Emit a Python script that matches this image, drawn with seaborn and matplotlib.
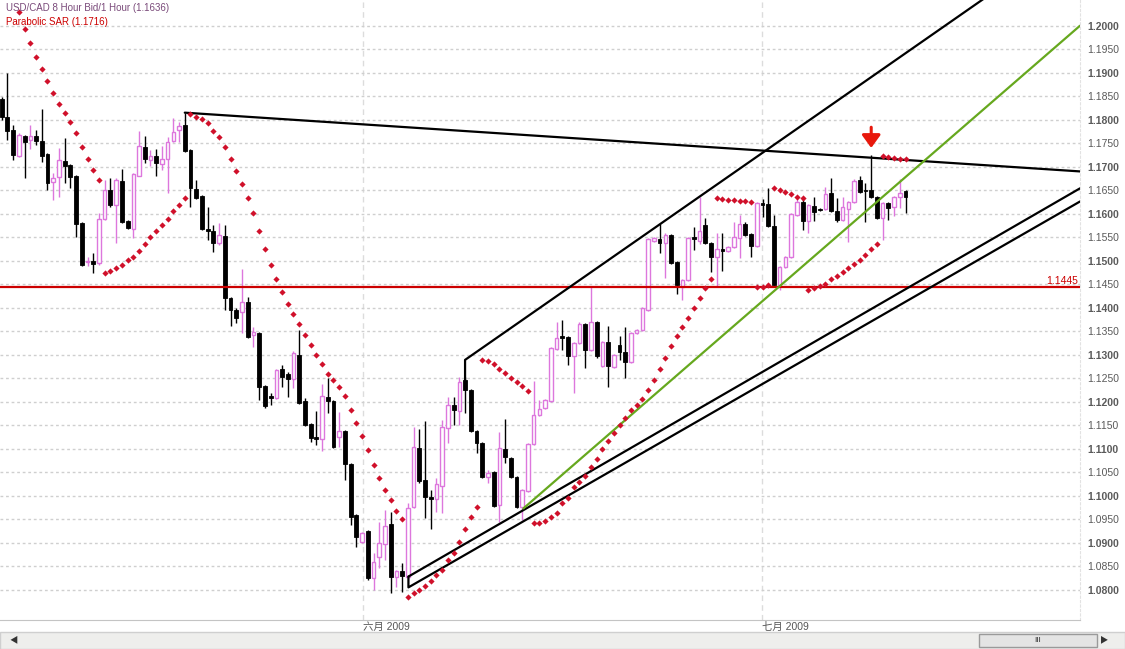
import matplotlib
matplotlib.use("Agg")
import matplotlib.pyplot as plt
from matplotlib.patches import Rectangle
import numpy as np
import pandas as pd
import seaborn as sns

# ---- USD/CAD 8-hour bars ----
opens = [
    1.1844, 1.1806, 1.1778, 1.1723, 1.1766, 1.1757, 1.1766, 1.1755, 1.1727, 1.1668,
    1.1678, 1.1712, 1.1704, 1.1680, 1.1580, 1.1497, 1.1500, 1.1495, 1.1589, 1.1650,
    1.1619, 1.1670, 1.1585, 1.1568, 1.1680, 1.1742, 1.1714, 1.1723, 1.1706, 1.1716,
    1.1755, 1.1778, 1.1789, 1.1736, 1.1653, 1.1638, 1.1568, 1.1563, 1.1538, 1.1553,
    1.1421, 1.1395, 1.1391, 1.1412, 1.1342, 1.1346, 1.1233, 1.1212, 1.1208, 1.1270,
    1.1259, 1.1248, 1.1299, 1.1202, 1.1153, 1.1125, 1.1121, 1.1210, 1.1202, 1.1125,
    1.1138, 1.1068, 1.0959, 1.0902, 1.0925, 1.0825, 1.0870, 1.0897, 1.0940, 1.0827,
    1.0840, 1.0827, 1.0976, 1.1102, 1.1033, 1.0997, 1.0993, 1.1021, 1.1144, 1.1193,
    1.1180, 1.1246, 1.1225, 1.1138, 1.1112, 1.1040, 1.1050, 1.0980, 1.1100, 1.1080,
    1.1040, 1.0976, 1.1010, 1.1110, 1.1172, 1.1187, 1.1202, 1.1312, 1.1340, 1.1338,
    1.1297, 1.1325, 1.1365, 1.1310, 1.1370, 1.1276, 1.1327, 1.1274, 1.1321, 1.1306,
    1.1285, 1.1346, 1.1353, 1.1395, 1.1542, 1.1546, 1.1538, 1.1555, 1.1497, 1.1444,
    1.1459, 1.1551, 1.1542, 1.1576, 1.1538, 1.1508, 1.1525, 1.1521, 1.1529, 1.1548,
    1.1578, 1.1557, 1.1531, 1.1623, 1.1621, 1.1574, 1.1448, 1.1487, 1.1508, 1.1597,
    1.1625, 1.1585, 1.1617, 1.1610, 1.1610, 1.1644, 1.1606, 1.1587, 1.1610, 1.1625,
    1.1672, 1.1650, 1.1650, 1.1636, 1.1591, 1.1623, 1.1614, 1.1636, 1.1648,
]
highs = [
    1.1848, 1.1899, 1.1789, 1.1772, 1.1768, 1.1789, 1.1778, 1.1823, 1.1729, 1.1687,
    1.1740, 1.1761, 1.1706, 1.1682, 1.1582, 1.1508, 1.1517, 1.1602, 1.1672, 1.1676,
    1.1676, 1.1695, 1.1587, 1.1687, 1.1776, 1.1766, 1.1736, 1.1738, 1.1744, 1.1763,
    1.1804, 1.1795, 1.1815, 1.1738, 1.1672, 1.1640, 1.1614, 1.1576, 1.1580, 1.1576,
    1.1423, 1.1400, 1.1482, 1.1423, 1.1359, 1.1349, 1.1236, 1.1219, 1.1270, 1.1278,
    1.1263, 1.1308, 1.1353, 1.1208, 1.1155, 1.1180, 1.1238, 1.1251, 1.1204, 1.1178,
    1.1140, 1.1070, 1.0961, 1.0923, 1.0927, 1.0878, 1.0944, 1.0970, 1.0966, 1.0842,
    1.0857, 1.0985, 1.1146, 1.1142, 1.1159, 1.1012, 1.1038, 1.1161, 1.1210, 1.1210,
    1.1253, 1.1253, 1.1227, 1.1140, 1.1115, 1.1055, 1.1053, 1.1136, 1.1163, 1.1082,
    1.1042, 1.1014, 1.1112, 1.1244, 1.1204, 1.1206, 1.1317, 1.1370, 1.1374, 1.1340,
    1.1327, 1.1370, 1.1368, 1.1444, 1.1372, 1.1329, 1.1361, 1.1301, 1.1340, 1.1359,
    1.1349, 1.1355, 1.1402, 1.1548, 1.1551, 1.1578, 1.1559, 1.1557, 1.1500, 1.1461,
    1.1551, 1.1572, 1.1636, 1.1591, 1.1540, 1.1559, 1.1559, 1.1531, 1.1582, 1.1597,
    1.1582, 1.1559, 1.1625, 1.1631, 1.1655, 1.1597, 1.1489, 1.1510, 1.1602, 1.1636,
    1.1633, 1.1621, 1.1636, 1.1612, 1.1657, 1.1676, 1.1633, 1.1636, 1.1627, 1.1674,
    1.1680, 1.1665, 1.1725, 1.1638, 1.1625, 1.1625, 1.1638, 1.1674, 1.1650,
]
lows = [
    1.1799, 1.1757, 1.1714, 1.1721, 1.1676, 1.1738, 1.1746, 1.1710, 1.1650, 1.1629,
    1.1636, 1.1665, 1.1655, 1.1551, 1.1489, 1.1489, 1.1474, 1.1491, 1.1587, 1.1614,
    1.1538, 1.1580, 1.1568, 1.1548, 1.1680, 1.1708, 1.1702, 1.1680, 1.1693, 1.1644,
    1.1753, 1.1753, 1.1732, 1.1614, 1.1631, 1.1565, 1.1544, 1.1519, 1.1533, 1.1395,
    1.1361, 1.1368, 1.1346, 1.1336, 1.1317, 1.1204, 1.1187, 1.1193, 1.1206, 1.1231,
    1.1210, 1.1229, 1.1195, 1.1149, 1.1115, 1.1108, 1.1095, 1.1176, 1.1102, 1.1104,
    1.1033, 1.0938, 1.0891, 1.0900, 1.0821, 1.0799, 1.0846, 1.0863, 1.0793, 1.0806,
    1.0795, 1.0825, 1.0974, 1.1027, 1.0953, 1.0929, 1.0965, 1.0963, 1.1112, 1.1151,
    1.1151, 1.1176, 1.1136, 1.1091, 1.1038, 1.1027, 1.0976, 1.0944, 1.1070, 1.1038,
    1.0974, 1.0948, 1.1008, 1.1108, 1.1170, 1.1185, 1.1199, 1.1310, 1.1310, 1.1278,
    1.1219, 1.1323, 1.1272, 1.1308, 1.1293, 1.1274, 1.1231, 1.1272, 1.1289, 1.1251,
    1.1282, 1.1344, 1.1351, 1.1393, 1.1540, 1.1517, 1.1463, 1.1493, 1.1429, 1.1416,
    1.1457, 1.1523, 1.1536, 1.1536, 1.1476, 1.1446, 1.1478, 1.1519, 1.1527, 1.1506,
    1.1553, 1.1508, 1.1529, 1.1593, 1.1572, 1.1446, 1.1438, 1.1485, 1.1506, 1.1595,
    1.1565, 1.1559, 1.1585, 1.1606, 1.1608, 1.1604, 1.1582, 1.1585, 1.1540, 1.1623,
    1.1644, 1.1582, 1.1633, 1.1589, 1.1544, 1.1587, 1.1595, 1.1612, 1.1601,
]
closes = [
    1.1806, 1.1776, 1.1725, 1.1768, 1.1753, 1.1766, 1.1755, 1.1723, 1.1665, 1.1676,
    1.1714, 1.1702, 1.1678, 1.1578, 1.1491, 1.1500, 1.1493, 1.1589, 1.1650, 1.1619,
    1.1672, 1.1582, 1.1570, 1.1685, 1.1744, 1.1716, 1.1723, 1.1708, 1.1716, 1.1753,
    1.1774, 1.1787, 1.1734, 1.1655, 1.1633, 1.1568, 1.1563, 1.1538, 1.1555, 1.1421,
    1.1395, 1.1378, 1.1412, 1.1338, 1.1349, 1.1231, 1.1191, 1.1208, 1.1268, 1.1253,
    1.1248, 1.1304, 1.1197, 1.1151, 1.1123, 1.1121, 1.1212, 1.1202, 1.1104, 1.1138,
    1.1068, 1.0955, 1.0912, 1.0921, 1.0825, 1.0859, 1.0900, 1.0936, 1.0827, 1.0840,
    1.0829, 1.0974, 1.1104, 1.1031, 1.0997, 1.0993, 1.1025, 1.1146, 1.1193, 1.1182,
    1.1242, 1.1225, 1.1138, 1.1112, 1.1040, 1.1048, 1.0978, 1.1102, 1.1082, 1.1040,
    1.0976, 1.1012, 1.1110, 1.1172, 1.1185, 1.1204, 1.1314, 1.1336, 1.1336, 1.1297,
    1.1325, 1.1365, 1.1310, 1.1370, 1.1297, 1.1327, 1.1276, 1.1299, 1.1306, 1.1285,
    1.1346, 1.1353, 1.1400, 1.1546, 1.1548, 1.1538, 1.1555, 1.1495, 1.1448, 1.1459,
    1.1548, 1.1546, 1.1563, 1.1538, 1.1508, 1.1525, 1.1521, 1.1529, 1.1551, 1.1578,
    1.1555, 1.1531, 1.1623, 1.1619, 1.1574, 1.1448, 1.1487, 1.1508, 1.1599, 1.1625,
    1.1585, 1.1619, 1.1604, 1.1608, 1.1642, 1.1606, 1.1587, 1.1614, 1.1625, 1.1670,
    1.1646, 1.1648, 1.1636, 1.1591, 1.1623, 1.1612, 1.1636, 1.1644, 1.1636,
]
parabolic_sar = [
    np.nan, np.nan, np.nan, 1.2029, 1.1994, 1.1963, 1.1933, 1.1907, 1.1882, 1.1856,
    1.1833, 1.1814, 1.1795, 1.1771, 1.1741, 1.1716, 1.1693, 1.1672, 1.1474, 1.1479,
    1.1484, 1.1491, 1.1501, 1.1507, 1.1521, 1.1535, 1.1550, 1.1563, 1.1577, 1.1588,
    1.1606, 1.1618, 1.1634, 1.1812, 1.1806, 1.1801, 1.1792, 1.1776, 1.1763, 1.1741,
    1.1716, 1.1691, 1.1663, 1.1633, 1.1601, 1.1563, 1.1525, 1.1490, 1.1461, 1.1433,
    1.1408, 1.1386, 1.1365, 1.1343, 1.1320, 1.1299, 1.1280, 1.1260, 1.1246, 1.1231,
    1.1212, 1.1183, 1.1154, 1.1128, 1.1097, 1.1065, 1.1037, 1.1012, 1.0990, 1.0968,
    1.0950, 1.0784, 1.0792, 1.0799, 1.0808, 1.0819, 1.0831, 1.0843, 1.0863, 1.0879,
    1.0902, 1.0929, 1.0954, 1.0977, 1.1289, 1.1287, 1.1280, 1.1269, 1.1261, 1.1250,
    1.1241, 1.1233, 1.1223, 1.0941, 1.0943, 1.0947, 1.0954, 1.0964, 1.0984, 1.0996,
    1.1018, 1.1029, 1.1041, 1.1062, 1.1078, 1.1099, 1.1117, 1.1133, 1.1150, 1.1166,
    1.1182, 1.1193, 1.1205, 1.1225, 1.1246, 1.1269, 1.1292, 1.1318, 1.1340, 1.1359,
    1.1378, 1.1400, 1.1420, 1.1443, 1.1461, 1.1634, 1.1631, 1.1629, 1.1629, 1.1628,
    1.1626, 1.1624, 1.1445, 1.1445, 1.1449, 1.1654, 1.1650, 1.1646, 1.1641, 1.1636,
    1.1633, 1.1438, 1.1441, 1.1446, 1.1450, 1.1461, 1.1468, 1.1475, 1.1484, 1.1492,
    1.1502, 1.1512, 1.1525, 1.1535, 1.1723, 1.1720, 1.1718, 1.1716, 1.1716,
]

# month markers (bar position) and labels
month_pos = [63.1, 132.9]
month_labels = ["六月 2009", "七月 2009"]

# hand-drawn studies: (bar, price) anchors
resistance_x, resistance_y = [32, 188.5], [1.1815, 1.1690]
channel_top_x, channel_top_y = [81, 81, 176], [1.1246, 1.1289, 1.2094]
green_x, green_y = [91.2, 188.5], [1.0973, 1.2000]
support_a_x, support_a_y = [71.1, 188.5], [1.0828, 1.1654]
support_b_x, support_b_y = [71.1, 71.1, 188.5], [1.0828, 1.0805, 1.1626]
level_1445 = 1.1445
arrow_bar, arrow_from, arrow_to = 152, 1.1784, 1.1740

PINK = "#dd77dd"
SAR_RED = "#d0102a"

sns.set_style("white")
plt.rcParams["font.family"] = ["Liberation Sans", "Noto Sans CJK SC", "DejaVu Sans"]

df = pd.DataFrame({"open": opens, "high": highs, "low": lows, "close": closes, "sar": parabolic_sar})
df["bar"] = np.arange(len(df))
df["up"] = df["close"] > df["open"]
df["body_lo"] = df[["open", "close"]].min(axis=1)
df["body_h"] = (df["close"] - df["open"]).abs().clip(lower=0.0001)

fig = plt.figure(figsize=(11.25, 6.49), dpi=100)
ax = fig.add_axes([0, 29 / 649, 1080 / 1125, 620 / 649])

up = df[df["up"]]
dn = df[~df["up"]]
ax.vlines(dn["bar"], dn["low"], dn["high"], color="black", lw=1, zorder=2)
ax.vlines(up["bar"], up["low"], up["high"], color=PINK, lw=1, zorder=2)
ax.bar(dn["bar"], dn["body_h"], bottom=dn["body_lo"], width=0.68,
       color="black", edgecolor="black", lw=0.6, zorder=3)
ax.bar(up["bar"], up["body_h"], bottom=up["body_lo"], width=0.62,
       color="white", edgecolor=PINK, lw=1, zorder=3)

sns.scatterplot(data=df, x="bar", y="sar", marker="D", s=10, color=SAR_RED,
                linewidth=0, legend=False, ax=ax, zorder=5)

# studies
ax.axhline(level_1445, color="#cc0000", lw=1.6, zorder=4)
ax.plot(resistance_x, resistance_y, color="black", lw=1.6, zorder=4)
ax.plot(channel_top_x, channel_top_y, color="black", lw=1.6, zorder=4)
ax.plot(support_a_x, support_a_y, color="black", lw=1.6, zorder=4)
ax.plot(support_b_x, support_b_y, color="black", lw=1.6, zorder=4)
ax.plot(green_x, green_y, color="#66a81e", lw=1.6, zorder=4)
ax.annotate("", xy=(arrow_bar, arrow_to), xytext=(arrow_bar, arrow_from),
            arrowprops=dict(arrowstyle="-|>,head_width=0.4,head_length=0.55",
                            mutation_scale=14, color="#e8180c", lw=2.2,
                            shrinkA=0, shrinkB=0), zorder=6)
ax.text(188.2, level_1445 + 0.0002, "1.1445", color="#cc0000", fontsize=7.5,
        ha="right", va="bottom")

ax.set_xlim(-0.3, 188.5)
ax.set_ylim(1.07356, 1.20547)

# axes & grid
ax.yaxis.tick_right()
ticks = np.round(np.arange(1.08, 1.20001, 0.005), 4)
ax.set_yticks(ticks)
ax.set_yticklabels([f"{t:.4f}" for t in ticks])
for t, lab in zip(ticks, ax.get_yticklabels()):
    if round(t * 1000) % 10 == 0:
        lab.set_fontweight("bold")
ax.tick_params(axis="y", length=0, pad=5, labelsize=7.5, labelcolor="#5a5a5a")
ax.set_xticks(month_pos)
ax.set_xticklabels(month_labels)
for lab in ax.get_xticklabels():
    lab.set_ha("left")
ax.tick_params(axis="x", length=0, pad=1.5, labelsize=7.5, labelcolor="#555555")
ax.yaxis.grid(True, color="#cfcfcf", linestyle=(0, (2, 2)), lw=1)
ax.xaxis.grid(True, color="#dcdcdc", linestyle=(0, (4, 3)), lw=1)
ax.set_xlabel("")
ax.set_ylabel("")
for side in ["top", "left"]:
    ax.spines[side].set_visible(False)
ax.spines["bottom"].set_color("#c4c4c4")
ax.spines["right"].set_color("#e2e2e2")
ax.spines["right"].set_linestyle((0, (2, 2)))

# legend text top-left
fig.text(6 / 1125, 1 - 8 / 649, "USD/CAD 8 Hour Bid/1 Hour (1.1636)", color="#7a4a7a",
         fontsize=7, va="center", ha="left")
fig.text(6 / 1125, 1 - 22 / 649, "Parabolic SAR (1.1716)", color="#cc0000",
         fontsize=7, va="center", ha="left")

# scrollbar strip
fig.add_artist(Rectangle((0, 0), 1, 17 / 649, transform=fig.transFigure,
                         fc="#eeeeec", ec="#cfcfcf", lw=1))
fig.add_artist(Rectangle((979 / 1125, 2 / 649), 118 / 1125, 13 / 649, transform=fig.transFigure,
                         fc="#e4e4e4", ec="#9a9a9a", lw=1))
fig.text(1038 / 1125, 8.5 / 649, "III", fontsize=6, ha="center", va="center", color="#333333")
fig.text(14 / 1125, 8.5 / 649, "◀", fontsize=6, ha="center", va="center", color="#333333")
fig.text(1104 / 1125, 8.5 / 649, "▶", fontsize=6, ha="center", va="center", color="#333333")

fig.savefig("out.png", dpi=100)
